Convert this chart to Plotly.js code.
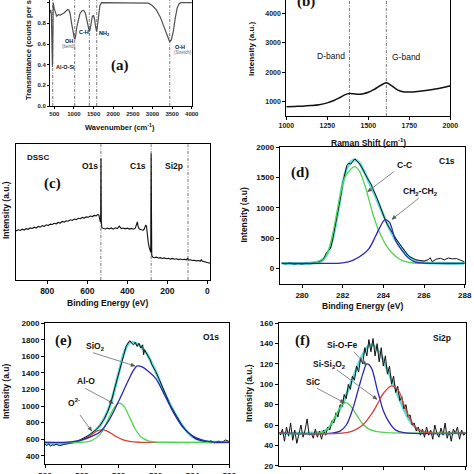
<!DOCTYPE html>
<html><head><meta charset="utf-8">
<script src="https://cdn.plot.ly/plotly-3.0.1.min.js"></script>
<style>html,body{margin:0;padding:0;background:#fff;}#chart{width:474px;height:474px;}</style>
</head><body><div id="chart"></div>
<script>
// ---------- (a) FTIR ----------
const ftirWavenumber = [390,410,425,435,445,452,458,464,472,485,500,530,560,600,650,700,750,800,840,870,900,940,980,1010,1025,1045,1070,1110,1150,1200,1250,1290,1330,1365,1392,1410,1440,1470,1500,1525,1555,1580,1600,1630,1660,1700,2000,2500,2800,2900,3000,3100,3200,3300,3380,3440,3480,3530,3580,3630,3680,3720,4000];
const ftirTransmittance = [0.90,0.93,0.88,0.6,0.42,0.38,0.5,0.85,1.0,0.97,0.94,0.9,0.87,0.885,0.88,0.89,0.9,0.92,0.935,0.93,0.9,0.8,0.7,0.655,0.65,0.68,0.76,0.84,0.89,0.92,0.925,0.9,0.84,0.76,0.72,0.74,0.83,0.87,0.875,0.84,0.76,0.72,0.78,0.9,0.97,1.0,1.0,1.0,1.0,0.995,0.97,0.93,0.86,0.76,0.66,0.62,0.64,0.72,0.85,0.95,0.99,1.0,1.0];
const ftirBandLines = [460,1020,1392,1580,3440];

// ---------- (b) Raman ----------
const ramanShift = [1000,1050,1100,1150,1200,1250,1290,1330,1360,1385,1410,1440,1470,1500,1530,1560,1590,1610,1630,1660,1690,1720,1750,1800,1850,1900,1950,2000];
const ramanIntensity = [830,840,850,870,900,960,1040,1150,1240,1275,1270,1250,1270,1320,1400,1500,1600,1640,1590,1470,1370,1330,1330,1350,1380,1420,1470,1540];
const ramanBandLines = [1385,1610];

// ---------- (c) XPS survey ----------
const surveyBE = [956,945,935,925,915,905,895,885,875,865,855,845,835,825,815,805,795,785,775,765,755,745,735,725,715,705,695,685,675,665,655,645,635,625,615,605,595,585,575,565,555,548,542,538,535,533,531.5,530,527,520,510,500,490,480,470,460,450,440,435,430,420,410,400,390,380,370,360,355,350,346,340,330,320,315,308,304,300,295,290,286,283,281,278,272,265,255,245,235,225,215,205,195,185,175,165,155,145,135,125,115,105,98,96,92,85,75,65,55,45,35,30,27,22,15,8,0,-8,-13];
const surveyIntensity = [48.5,49.6,48.9,50.2,49.4,50.8,50.1,51.5,50.9,52.2,51.4,53.0,52.3,53.8,53.0,54.6,53.9,55.3,55.0,56.2,55.6,57.0,56.4,58.0,57.4,58.6,58.2,59.6,59.0,60.4,59.8,61.2,60.7,62.0,61.4,62.6,62.2,63.4,62.9,64.0,63.6,65.0,64.3,60.5,57.5,62,121,58,51.5,51,50.4,51.4,50.6,51.5,50.3,51.6,50.8,53.2,52.4,50.8,51.4,50.6,51.2,50.3,51.0,50.2,51.2,53.5,57.6,52.8,50.4,49.6,49.2,50.5,54.5,53,44,36,31.5,29.3,27,126,24,22,21.6,22.2,21.3,21.7,20.9,21.4,20.6,21.0,20.3,20.9,20.1,20.6,19.8,20.3,19.6,20.1,19.5,21.2,19.4,19.3,19.6,18.8,19.1,18.5,18.8,18.2,19.8,18.3,17.9,17.6,17.3,16.6,16.3,16.0];
const surveyPeakLines = [532,281,97];

// ---------- (d) C1s ----------
const c1sBE = [279.0,279.2,279.4,279.6,279.8,280.0,280.2,280.4,280.6,280.8,281.0,281.1,281.2,281.3,281.4,281.5,281.6,281.7,281.8,281.9,282.0,282.1,282.2,282.3,282.4,282.5,282.6,282.7,282.8,282.9,283.0,283.1,283.2,283.3,283.4,283.5,283.6,283.7,283.8,283.9,284.0,284.1,284.2,284.3,284.4,284.5,284.6,284.7,284.8,284.9,285.0,285.1,285.2,285.3,285.4,285.5,285.6,285.8,286.0,286.2,286.3,286.4,286.6,286.8,287.0,287.2,287.4,287.6,287.8,288.0];
const c1sRaw = [85,72,88,70,78,70,84,76,90,100,130,180,260,300,330,470,640,820,1010,1190,1400,1580,1700,1740,1720,1770,1810,1770,1740,1690,1620,1560,1500,1440,1390,1300,1230,1150,1060,960,860,790,720,660,600,550,500,450,400,350,300,260,220,190,170,150,140,130,120,140,175,110,150,165,140,170,155,160,130,105];
const c1sFitBE = [279,280,280.5,281,281.3,281.5,281.8,282,282.2,282.4,282.6,282.8,283,283.3,283.6,284,284.3,284.6,285,285.3,285.6,286,287,288];
const c1sEnvelope = [80,80,90,140,280,480,1000,1400,1650,1760,1790,1750,1630,1420,1200,880,660,470,290,180,120,95,85,80];
const ccBE = [279,280,280.5,281,281.3,281.5,281.7,281.9,282.1,282.3,282.5,282.6,282.8,283.1,283.3,283.5,283.7,283.9,284.1,284.4,284.8,285.2,285.6,286,288];
const ccFit = [80,80,85,120,300,560,900,1250,1500,1600,1670,1680,1620,1360,1120,880,680,530,400,260,150,100,82,80,80];
const ch2BE = [279,281,282,282.5,283,283.3,283.6,283.8,284.0,284.1,284.3,284.6,284.9,285.2,285.5,285.9,286.5,288];
const ch2Fit = [80,80,90,130,230,330,520,660,780,805,760,460,300,180,110,88,80,80];

// ---------- (e) O1s ----------
const o1sBE = [526.0,526.1,526.2,526.3,526.4,526.5,526.6,526.8,527.0,527.2,527.4,527.6,527.8,528.0,528.2,528.4,528.6,528.8,529.0,529.2,529.4,529.6,529.8,530.0,530.1,530.2,530.3,530.4,530.5,530.6,530.7,530.8,530.9,531.0,531.1,531.2,531.3,531.35,531.4,531.5,531.6,531.7,531.8,532.0,532.2,532.4,532.6,532.8,533.0,533.2,533.4,533.6,533.8,534.0,534.2,534.4,534.6,534.8,535.0,535.2,535.4,535.6,535.8,536.0];
const o1sRaw = [540,520,545,515,530,525,540,520,535,545,550,560,580,600,625,650,680,720,770,840,930,1060,1230,1400,1480,1580,1660,1720,1760,1790,1760,1740,1770,1720,1760,1700,1740,1620,1680,1640,1600,1560,1500,1420,1320,1210,1100,1010,930,850,780,720,670,630,600,590,575,560,580,555,575,560,590,570];
const o1sFitBE = [526,527,527.5,528,528.5,529,529.5,530,530.3,530.6,530.9,531.2,531.5,532,532.5,533,533.5,534,534.5,535,536];
const o1sEnvelope = [545,548,560,590,660,770,990,1400,1650,1770,1760,1720,1640,1420,1150,930,750,630,580,565,565];
const o2BE = [526,527.5,528,528.5,528.8,529.1,529.4,529.8,530.2,530.6,531.2,532,536];
const o2Fit = [560,562,590,650,695,712,695,640,595,572,562,560,560];
const aloBE = [526,528,528.5,529,529.3,529.6,529.85,530.05,530.3,530.6,530.9,531.2,531.6,532,532.5,536];
const aloFit = [560,562,580,660,780,920,1010,1035,990,860,720,630,580,565,560,560];
const sio2BE = [526,527,527.5,528,528.5,529,529.5,530,530.5,530.8,531.0,531.3,531.6,532,532.5,533,533.5,534,534.5,535,536];
const sio2Fit = [560,562,570,590,630,690,840,1060,1300,1430,1485,1470,1420,1335,1130,910,740,640,590,568,562];

// ---------- (f) Si2p ----------
const si2pBE = [97.0,97.1,97.2,97.3,97.4,97.5,97.6,97.7,97.8,97.9,98.0,98.1,98.2,98.3,98.4,98.5,98.6,98.7,98.8,98.9,99.0,99.1,99.2,99.3,99.4,99.5,99.6,99.7,99.8,99.9,100.0,100.1,100.2,100.3,100.4,100.5,100.6,100.7,100.8,100.9,101.0,101.1,101.2,101.3,101.4,101.5,101.6,101.7,101.8,101.9,102.0,102.1,102.2,102.3,102.4,102.5,102.6,102.7,102.8,102.9,103.0,103.1,103.2,103.3,103.4,103.5,103.6,103.7,103.8,103.9,104.0,104.1,104.2,104.3,104.4,104.5,104.6,104.7,104.8,104.9,105.0,105.1,105.2,105.3,105.4,105.5,105.6,105.7,105.8,105.9,106.0];
const si2pRaw = [50,56,44,58,49,62,45,55,42,53,60,48,55,66,50,52,47,56,48,54,46,55,50,58,55,64,62,72,68,80,78,90,86,100,95,108,104,118,112,126,120,136,128,144,132,145,128,140,122,136,118,128,110,118,100,108,92,98,84,88,76,80,68,70,60,62,54,58,50,56,48,58,50,55,46,60,52,48,57,50,62,47,54,44,56,52,58,46,55,50,52];
const si2pFitBE = [96.9,98,99,99.3,99.6,100,100.3,100.6,100.9,101.2,101.4,101.6,101.9,102.2,102.5,102.8,103.1,103.4,103.7,104,106];
const si2pEnvelope = [52,52,53,56,65,80,95,110,125,136,139,137,128,114,100,85,71,61,55,53,52];
const sicBE = [96.9,99,99.3,99.6,99.9,100.15,100.4,100.7,101.0,101.3,101.7,102.2,106];
const sicFit = [52,52.5,56,66,77,82,79,70,61,56,53.5,52.5,52];
const sioFeBE = [96.9,99.5,99.9,100.2,100.5,100.8,101.0,101.2,101.4,101.7,101.8,102.0,102.3,102.6,103,106];
const sioFeFit = [52,52,54,60,75,96,110,120,117,95,88,74,62,55,52.5,52];
const sisi2o2BE = [96.9,100,100.5,101.0,101.4,101.7,102.0,102.4,102.7,103.0,103.3,103.6,104.0,104.5,106];
const sisi2o2Fit = [52,52,54,60,70,80,91,98.5,95,80,66,57,53,52,52];

// ---------- rendering ----------
const S = 474;
const FF = 'Liberation Sans, Arial, sans-serif';
const SERIF = 'Liberation Serif, Times New Roman, serif';
const CYAN = '#5fdcd8', GREEN = '#4fd64f', BLUE = '#2a28b4', RED = '#d8403a';

function line(x, y, xa, ya, color, width, shape) {
  return {x: x, y: y, xaxis: xa, yaxis: ya, type: 'scatter', mode: 'lines',
    line: {color: color, width: width, shape: shape || 'linear'}, hoverinfo: 'skip', showlegend: false};
}

const traces = [
  line(ftirWavenumber, ftirTransmittance, 'x', 'y', '#505050', 1.2),
  line(ramanShift, ramanIntensity, 'x2', 'y2', '#111', 1.5, 'spline'),
  line(surveyBE, surveyIntensity, 'x3', 'y3', '#111', 1.1),
  line(c1sFitBE, c1sEnvelope, 'x4', 'y4', CYAN, 2.8, 'spline'),
  line(c1sBE, c1sRaw, 'x4', 'y4', '#111', 1),
  line(ccBE, ccFit, 'x4', 'y4', GREEN, 1.3, 'spline'),
  line(ch2BE, ch2Fit, 'x4', 'y4', BLUE, 1.3, 'spline'),
  line(o1sFitBE, o1sEnvelope, 'x5', 'y5', CYAN, 2.8, 'spline'),
  line(o1sBE, o1sRaw, 'x5', 'y5', '#111', 1),
  line(o2BE, o2Fit, 'x5', 'y5', RED, 1.3, 'spline'),
  line(aloBE, aloFit, 'x5', 'y5', GREEN, 1.3, 'spline'),
  line(sio2BE, sio2Fit, 'x5', 'y5', BLUE, 1.3, 'spline'),
  line(si2pFitBE, si2pEnvelope, 'x6', 'y6', CYAN, 2.8, 'spline'),
  line(si2pBE, si2pRaw, 'x6', 'y6', '#111', 1),
  line(sicBE, sicFit, 'x6', 'y6', GREEN, 1.3, 'spline'),
  line(sioFeBE, sioFeFit, 'x6', 'y6', BLUE, 1.3, 'spline'),
  line(sisi2o2BE, sisi2o2Fit, 'x6', 'y6', RED, 1.3, 'spline')
];

function ax(dom, range, opts) {
  return Object.assign({
    domain: dom, range: range, showgrid: false, zeroline: false,
    showline: true, linecolor: '#000', linewidth: 1, mirror: true,
    ticks: 'outside', ticklen: 3, tickwidth: 1, tickcolor: '#000',
    tickfont: {family: FF, size: 8, color: '#111', weight: 'bold'}
  }, opts || {});
}
const dx = (a, b) => [a / S, b / S];
const dy = (top, bottom) => [1 - bottom / S, 1 - top / S];

const layout = {
  width: S, height: S, margin: {l: 0, r: 0, t: 0, b: 0},
  paper_bgcolor: '#fff', plot_bgcolor: '#fff', showlegend: false,
  xaxis: ax(dx(50, 192), [390, 4007], {anchor: 'y', mirror: false, tickvals: [500,1000,1500,2000,2500,3000,3500,4000], tickfont: {family: FF, size: 6, color: '#222', weight: 'bold'}, ticklen: 2}),
  yaxis: ax(dy(0, 106), [0, 1.026], {anchor: 'x', tickvals: [0,0.2,0.4,0.6,0.8,1.0], tickformat: '.1f', tickfont: {family: FF, size: 6, color: '#222', weight: 'bold'}, ticklen: 2}),
  xaxis2: ax(dx(286.3, 450.3), [1000, 2000], {anchor: 'y2', mirror: false, dtick: 250, tickfont: {family: FF, size: 7, color: '#222', weight: 'bold'}}),
  yaxis2: ax(dy(0, 116), [515, 4451], {anchor: 'x2', tickvals: [1000,2000,3000,4000], tickfont: {family: FF, size: 7, color: '#222', weight: 'bold'}}),
  xaxis3: ax(dx(16, 210), [956, -13], {anchor: 'y3', tickvals: [800,600,400,200,0], tickfont: {family: FF, size: 8.5, color: '#111', weight: 'bold'}}),
  yaxis3: ax(dy(144.3, 280), [-0.7, 135.3], {anchor: 'x3', ticks: '', showticklabels: false}),
  xaxis4: ax(dx(279.7, 464.7), [278.9, 288], {anchor: 'y4', dtick: 2}),
  yaxis4: ax(dy(147.3, 284), [-260, 2000], {anchor: 'x4', dtick: 500}),
  xaxis5: ax(dx(45, 229.3), [526, 536], {anchor: 'y5', dtick: 2}),
  yaxis5: ax(dy(323.3, 464.3), [296, 2000], {anchor: 'x5', dtick: 200}),
  xaxis6: ax(dx(278.7, 465.7), [96.92, 106], {anchor: 'y6', dtick: 2}),
  yaxis6: ax(dy(323.3, 465.7), [20, 160], {anchor: 'x6', dtick: 20}),
  shapes: [], annotations: []
};

function vlines(vals, xa, ya) {
  vals.forEach(v => layout.shapes.push({type: 'line', xref: xa, yref: ya + ' domain', x0: v, x1: v, y0: 0, y1: 1,
    line: {color: '#777', width: 1, dash: '3px,1.5px,1px,1.5px'}, layer: 'below'}));
}
vlines(ftirBandLines, 'x', 'y');
vlines(ramanBandLines, 'x2', 'y2');
vlines(surveyPeakLines, 'x3', 'y3');

function txt(text, x, y, size, o) {
  o = o || {};
  layout.annotations.push({xref: 'paper', yref: 'paper', x: x / S, y: 1 - y / S, text: text, showarrow: false,
    xanchor: o.xa || 'center', yanchor: o.ya || 'middle', textangle: o.angle || 0,
    font: {family: o.family || FF, size: size, color: o.color || '#111', weight: o.weight || 'bold'}});
}
// pointer line with a small arrowhead, drawn as shapes in paper space (pixel inputs)
function arrow(tipX, tipY, tailX, tailY) {
  layout.shapes.push({type: 'line', xref: 'paper', yref: 'paper', x0: tailX / S, y0: 1 - tailY / S, x1: tipX / S, y1: 1 - tipY / S,
    line: {color: '#8a8a8a', width: 1}});
  const L = Math.hypot(tipX - tailX, tipY - tailY), ux = (tipX - tailX) / L, uy = (tipY - tailY) / L;
  const bx = tipX - ux * 4, by = tipY - uy * 4, hw = 1.7;
  const p = [[tipX, tipY], [bx - uy * hw, by + ux * hw], [bx + uy * hw, by - ux * hw]]
    .map(q => (q[0] / S).toFixed(5) + ',' + (1 - q[1] / S).toFixed(5));
  layout.shapes.push({type: 'path', xref: 'paper', yref: 'paper', path: 'M' + p[0] + 'L' + p[1] + 'L' + p[2] + 'Z',
    fillcolor: '#555', line: {color: '#555', width: 0.5}});
}

// (a)
txt('Transmittance (counts per second)', 28, 38, 7.5, {angle: -90});
txt('Wavenumber (cm<sup>-1</sup>)', 120, 127, 7.5);
txt('(a)', 120, 66, 15, {family: SERIF});
txt('Al-O-Si', 53.5, 67, 5.5, {xa: 'left'});
txt('OH', 69, 41, 5.5);
txt('(bend)', 69, 46.5, 4.5, {weight: 'normal', color: '#666'});
txt('C-H', 83.5, 32, 5.5);
txt('NH<sub>2</sub>', 97, 33, 5.5, {xa: 'left'});
txt('O-H', 172.5, 47.5, 5.5, {xa: 'left'});
txt('(Stretch)', 172, 52.5, 4.5, {xa: 'left', weight: 'normal', color: '#666'});
// (b)
txt('Intensity (a.u.)', 252, 48, 8, {angle: -90});
txt('Raman Shift (cm<sup>-1</sup>)', 368, 142, 8.5);
txt('D-band', 331, 56, 8.5, {weight: 'normal'});
txt('G-band', 406, 57, 8.5, {weight: 'normal'});
txt('(b)', 306, 2, 15, {family: SERIF});
// (c)
txt('Intensity (a.u.)', 6, 210, 8.5, {angle: -90});
txt('Binding Energy (eV)', 107, 303, 8.5);
txt('DSSC', 37.5, 158, 8);
txt('O1s', 90, 166, 8.5);
txt('C1s', 137.5, 166, 8.5);
txt('Si2p', 174, 166, 8.5);
txt('(c)', 52.5, 184, 15, {family: SERIF});
// (d)
txt('Intensity (a.u)', 243.5, 215, 8.5, {angle: -90});
txt('Binding Energy (eV)', 362, 305.5, 8.5);
txt('(d)', 300, 172, 15, {family: SERIF});
txt('C1s', 447, 161, 8.5);
txt('C-C', 404, 165, 8.5);
txt('CH<sub>2</sub>-CH<sub>2</sub>', 420, 192, 8.5);
arrow(367.7, 191.7, 393.7, 171.7);
arrow(392, 219.3, 418.7, 198.3);
// (e)
txt('Intensity (a.u)', 6, 392, 8.5, {angle: -90});
txt('(e)', 64, 340, 15, {family: SERIF});
txt('O1s', 211, 337, 8.5);
txt('SiO<sub>2</sub>', 95, 346, 8.5);
txt('Al-O', 86, 381, 8.5);
txt('O<sup>2-</sup>', 74, 402, 8.5);
arrow(135, 366, 93, 352.7);
arrow(113.3, 403.3, 85, 388.3);
arrow(91.7, 431, 80, 415);
// (f)
txt('Intensity (a.u.)', 249, 393, 8.5, {angle: -90});
txt('(f)', 302, 340, 15, {family: SERIF});
txt('Si2p', 442, 338, 8.5);
txt('Si-O-Fe', 342, 345, 8.5);
txt('Si-Si<sub>2</sub>O<sub>2</sub>', 329, 364, 8.5);
txt('SiC', 313, 382, 8.5);
arrow(366.3, 365, 353.7, 351.7);
arrow(377, 399.3, 337, 370);
arrow(344.3, 402.7, 317, 388.3);

Plotly.newPlot('chart', traces, layout, {staticPlot: true, displayModeBar: false});
</script>
</body></html>
